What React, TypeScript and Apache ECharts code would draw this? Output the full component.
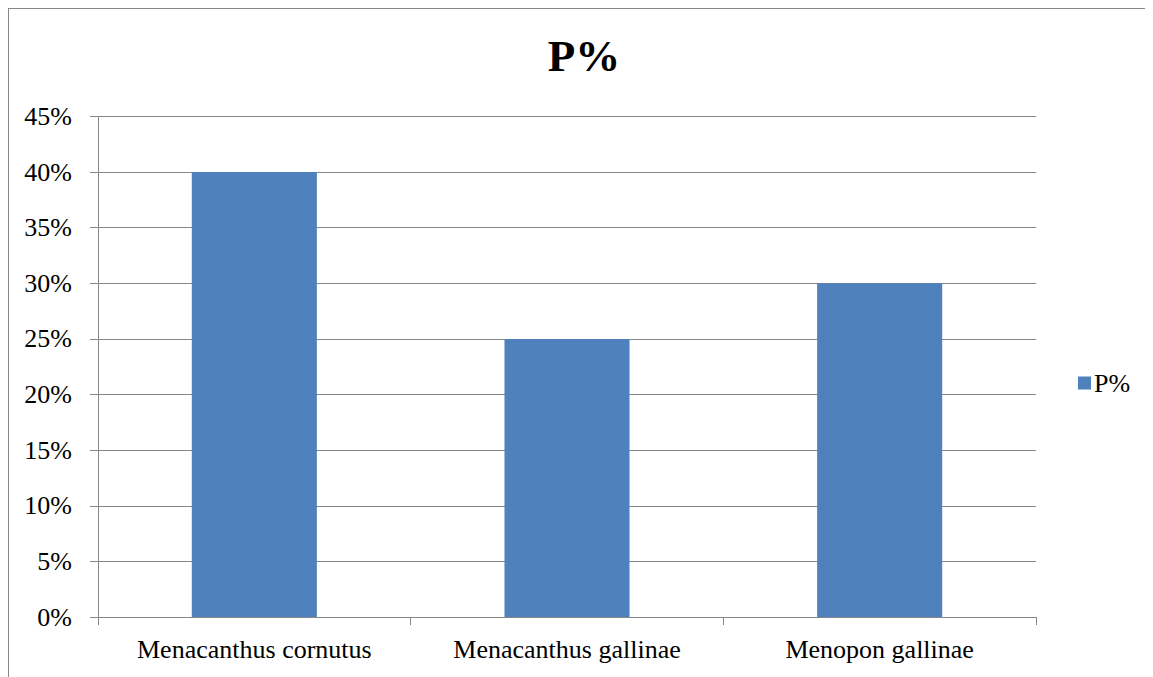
import React, { useEffect, useRef } from "react";
import * as echarts from "echarts";

const categories = ["Menacanthus cornutus", "Menacanthus gallinae", "Menopon gallinae"];
const seriesName = "P%";
const values = [40, 25, 30];
const yTicks = { min: 0, max: 45, interval: 5 };

const FONT = '"Liberation Serif", "Times New Roman", serif';
const GRAY = "#868686";

export default function App() {
  const ref = useRef<HTMLDivElement>(null);
  useEffect(() => {
    if (!ref.current) return;
    const chart = echarts.init(ref.current, null, { renderer: "svg" });
    chart.setOption({
      animation: false,
      title: {
        text: "P%",
        left: "center",
        top: 19,
        textStyle: { fontFamily: FONT, fontSize: 45, fontWeight: "bold", color: "#000" },
      },
      legend: {
        orient: "vertical",
        left: 1064,
        top: 356,
        itemWidth: 13,
        itemHeight: 13,
        icon: "rect",
        textStyle: { fontFamily: FONT, fontSize: 26, color: "#000", padding: [0, 0, 0, -2] },
        data: [seriesName],
      },
      grid: { left: 89, top: 107.5, width: 938, height: 500.5, containLabel: false },
      xAxis: {
        type: "category",
        data: categories,
        axisLine: { lineStyle: { color: GRAY, width: 1 } },
        axisTick: { show: true, length: 8, lineStyle: { color: GRAY } },
        axisLabel: { fontFamily: FONT, fontSize: 26, color: "#000", margin: 19 },
        splitLine: { show: false },
      },
      yAxis: {
        type: "value",
        min: yTicks.min,
        max: yTicks.max,
        interval: yTicks.interval,
        axisLine: { show: true, lineStyle: { color: GRAY, width: 1 } },
        axisTick: { show: true, length: 8, lineStyle: { color: GRAY } },
        axisLabel: { fontFamily: FONT, fontSize: 26, color: "#000", margin: 26, formatter: "{value}%" },
        splitLine: { show: true, lineStyle: { color: GRAY, width: 1 } },
      },
      series: [
        {
          name: seriesName,
          type: "bar",
          data: values,
          barWidth: "40%",
          itemStyle: { color: "#4F81BD" },
        },
      ],
    });
    return () => chart.dispose();
  }, []);
  return (
    <div
      style={{
        width: 1152,
        height: 680,
        border: `1px solid ${GRAY}`,
        boxSizing: "border-box",
        background: "#fff",
      }}
    >
      <div ref={ref} style={{ width: 1150, height: 678 }} />
    </div>
  );
}
